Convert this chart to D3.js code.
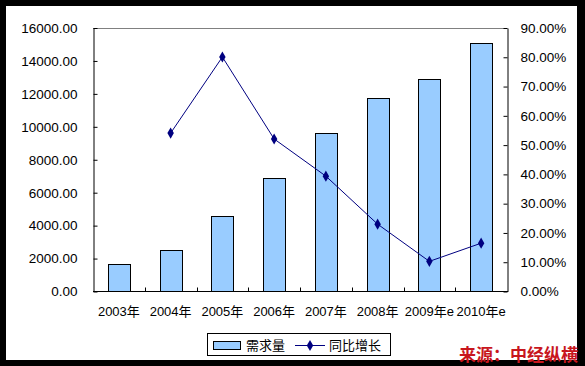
<!DOCTYPE html>
<html><head><meta charset="utf-8">
<script src="https://cdn.jsdelivr.net/npm/d3@7"></script>
<style>body{margin:0;background:#000}svg{display:block}</style>
</head><body>
<script>
const categories = ["2003年","2004年","2005年","2006年","2007年","2008年","2009年e","2010年e"];
const demand = [1640, 2550, 4580, 6880, 9620, 11750, 12880, 15070];
const growth = [null, 54.1, 80.1, 52.1, 39.4, 23.0, 10.3, 16.5];
const leftTicks = [0,2000,4000,6000,8000,10000,12000,14000,16000];
const rightTicks = [0,10,20,30,40,50,60,70,80,90];

const W=585,H=366;
const svg=d3.select("body").append("svg").attr("width",W).attr("height",H);
svg.append("rect").attr("width",W).attr("height",H).attr("fill","#000");
svg.append("rect").attr("x",6).attr("y",6).attr("width",571).attr("height",354).attr("fill","#fff");

const L=93,R=507,T=28,B=291.5;
const x=d3.scaleBand().domain(categories).range([L,R]);
const yL=d3.scaleLinear().domain([0,16000]).range([B,T]);
const yR=d3.scaleLinear().domain([0,90]).range([B,T]);
const font="'Liberation Sans', Arial, 'Noto Sans CJK SC', sans-serif";

// top border
svg.append("line").attr("x1",L).attr("x2",R).attr("y1",T+0.5).attr("y2",T+0.5).attr("stroke","#808080");

// bars
svg.append("g").selectAll("rect").data(demand).join("rect")
  .attr("x",(d,i)=>Math.round(x(categories[i])+x.bandwidth()/2-11)+0.5)
  .attr("y",d=>Math.round(yL(d))+0.5)
  .attr("width",22)
  .attr("height",d=>B-Math.round(yL(d))-0.5)
  .attr("fill","#99ccff").attr("stroke","#000").attr("stroke-width",1);

// left axis
const gl=svg.append("g").attr("transform",`translate(${L+0.5},0)`)
  .call(d3.axisLeft(yL).tickValues(leftTicks).tickFormat(d=>d.toFixed(2)).tickSizeInner(-4).tickSizeOuter(0).tickPadding(16));
gl.select(".domain").attr("stroke","#000");
gl.selectAll("text").attr("font-family",font).attr("font-size","13.5px").attr("fill","#000");

// right axis
const gr=svg.append("g").attr("transform",`translate(${R+0.5},0)`)
  .call(d3.axisRight(yR).tickValues(rightTicks).tickFormat(d=>d.toFixed(2)+"%").tickSizeInner(-4).tickSizeOuter(0).tickPadding(13));
gr.select(".domain").attr("stroke","#000");
gr.selectAll("text").attr("font-family",font).attr("font-size","13.5px").attr("fill","#000");

// bottom axis
const gb=svg.append("g").attr("transform",`translate(0,${B})`);
gb.append("line").attr("x1",L).attr("x2",R+1).attr("y1",0).attr("y2",0).attr("stroke","#000");
gb.selectAll(".tk").data(categories.slice(1)).join("line")
  .attr("x1",d=>Math.round(x(d))+0.5).attr("x2",d=>Math.round(x(d))+0.5)
  .attr("y1",-4).attr("y2",0).attr("stroke","#000");
gb.selectAll("text").data(categories).join("text")
  .attr("x",d=>x(d)+x.bandwidth()/2).attr("y",24)
  .attr("text-anchor","middle").attr("font-family",font).attr("font-size","13px").attr("fill","#000")
  .text(d=>d);

// line
const pts=growth.map((g,i)=>({g,c:categories[i]})).filter(d=>d.g!==null);
const line=d3.line().x(d=>x(d.c)+x.bandwidth()/2).y(d=>yR(d.g));
svg.append("path").datum(pts).attr("d",line).attr("fill","none").attr("stroke","#000080").attr("stroke-width",1);
const diamond=d3.symbol().type(d3.symbolDiamond).size(36);
svg.append("g").selectAll("path").data(pts).join("path")
  .attr("transform",d=>`translate(${x(d.c)+x.bandwidth()/2},${yR(d.g)})`)
  .attr("d",diamond).attr("fill","#000080");

// legend
const lg=svg.append("g");
lg.append("rect").attr("x",207.5).attr("y",333.5).attr("width",183).attr("height",22).attr("fill","#fff").attr("stroke","#000");
lg.append("rect").attr("x",213.5).attr("y",341.5).attr("width",27).attr("height",8).attr("fill","#99ccff").attr("stroke","#000");
lg.append("text").attr("x",246).attr("y",350).attr("font-family",font).attr("font-size","13px").text("需求量");
lg.append("line").attr("x1",295).attr("x2",325).attr("y1",345.5).attr("y2",345.5).attr("stroke","#000080");
lg.append("path").attr("transform","translate(310,345.5)").attr("d",diamond).attr("fill","#000080");
lg.append("text").attr("x",329).attr("y",350).attr("font-family",font).attr("font-size","13px").text("同比增长");

// source
svg.append("text").attr("x",578).attr("y",361).attr("text-anchor","end")
  .attr("font-family","'Noto Sans CJK SC', sans-serif").attr("font-weight","bold").attr("font-size","17px")
  .attr("fill","#c8161d").text("来源：中经纵横");
</script>
</body></html>
